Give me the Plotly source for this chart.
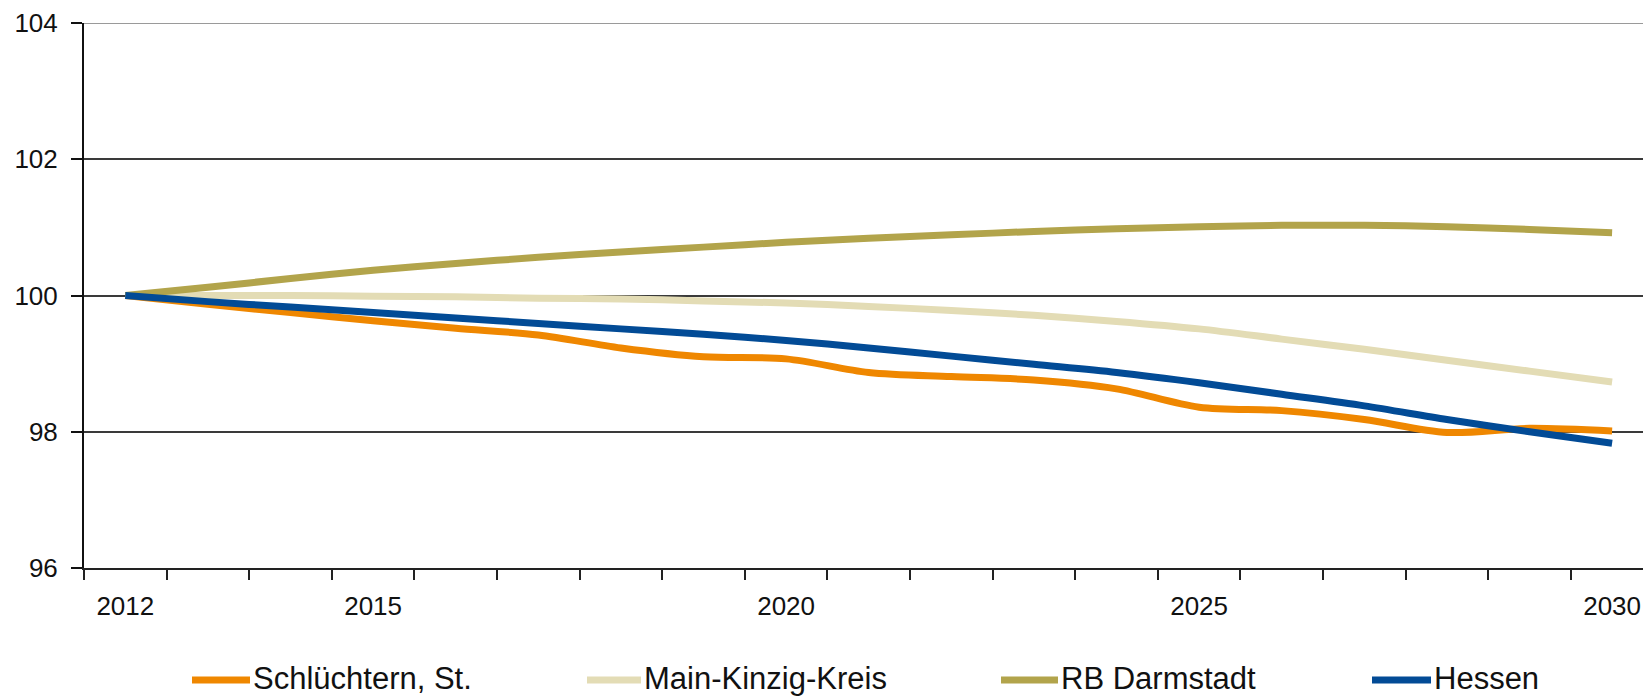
import plotly.graph_objects as go

# Bevölkerungsentwicklung, Index 2012 = 100
years = list(range(2012, 2031))

schluechtern = [100.00, 99.87, 99.75, 99.63, 99.52, 99.42, 99.23, 99.10, 99.07, 98.87,
                98.81, 98.76, 98.63, 98.36, 98.31, 98.18, 97.99, 98.05, 98.01]
main_kinzig = [100.00, 100.00, 100.00, 99.99, 99.98, 99.96, 99.95, 99.92, 99.89, 99.84,
               99.78, 99.71, 99.62, 99.51, 99.36, 99.21, 99.05, 98.89, 98.73]
rb_darmstadt = [100.00, 100.12, 100.25, 100.37, 100.47, 100.56, 100.64, 100.71, 100.78, 100.84,
                100.89, 100.94, 100.98, 101.01, 101.03, 101.03, 101.01, 100.97, 100.92]
hessen = [100.00, 99.91, 99.83, 99.75, 99.67, 99.59, 99.51, 99.43, 99.34, 99.23,
          99.11, 98.99, 98.87, 98.72, 98.55, 98.38, 98.18, 98.00, 97.83]

series_names = ["Schlüchtern, St.", "Main-Kinzig-Kreis", "RB Darmstadt", "Hessen"]
series_values = [schluechtern, main_kinzig, rb_darmstadt, hessen]
series_colors = ["#EF8700", "#E3DCB5", "#B2A44B", "#024B96"]

x_tick_years = [2012, 2015, 2020, 2025, 2030]
y_ticks = [96, 98, 100, 102, 104]

FONT = "Liberation Sans Narrow, Arial Narrow, Liberation Sans, Arial, sans-serif"
W, H = 1643, 699
ML, MR, MT, MB = 84, 0, 23, 131
PW, PH = W - ML - MR, H - MT - MB

fig = go.Figure()
for name, vals, col in zip(series_names, series_values, series_colors):
    fig.add_trace(go.Scatter(
        x=years, y=vals, name=name, mode="lines",
        line=dict(color=col, width=7, shape="spline", smoothing=0.9),
        showlegend=False, hoverinfo="x+y+name",
    ))

# one year per 82.6 px; first category boundary sits on the value axis
year_px = 82.6
x_left = years[0] - 0.5
x_right = x_left + PW / year_px

fig.update_layout(
    width=W, height=H,
    margin=dict(l=ML, r=MR, t=MT, b=MB, pad=0),
    paper_bgcolor="white", plot_bgcolor="white",
    font=dict(family=FONT, color="#111111", size=26),
    xaxis=dict(
        range=[x_left, x_right], tickvals=x_tick_years,
        ticktext=[str(y) for y in x_tick_years],
        ticks="", showgrid=False, zeroline=False,
        showline=True, linecolor="#222222", linewidth=2,
        tickfont=dict(family=FONT, size=26, color="#111111"),
        ticklabelstandoff=14, ticklabeloverflow="allow",
        minor=dict(tick0=x_left, dtick=1, ticks="outside", ticklen=10,
                   tickwidth=2, tickcolor="#222222", showgrid=False),
        automargin=False, fixedrange=True,
    ),
    yaxis=dict(
        range=[96, 104], tickvals=y_ticks, ticktext=[str(v) for v in y_ticks],
        ticks="outside", ticklen=11, tickwidth=2, tickcolor="#111111",
        showgrid=True, gridcolor="#3a3a3a", gridwidth=1.5, zeroline=False,
        showline=True, linecolor="#111111", linewidth=2,
        tickfont=dict(family=FONT, size=26, color="#111111"),
        ticklabelstandoff=8, ticklabeloverflow="allow",
        automargin=False, fixedrange=True,
    ),
    showlegend=False,
)

# top frame line at 104
fig.add_shape(type="line", xref="paper", yref="y", x0=0, x1=1, y0=104, y1=104,
              line=dict(color="#9a9a9a", width=2), layer="above")

# legend row below the axis
def px_x(px):
    return (px - ML) / PW

def px_y(py):
    return (H - MB - py) / PH

legend_sym = [(192, 250), (587, 641), (1001, 1058), (1372, 1431)]
legend_y = 680
for (x0, x1), name, col in zip(legend_sym, series_names, series_colors):
    fig.add_shape(type="line", xref="paper", yref="paper",
                  x0=px_x(x0), x1=px_x(x1), y0=px_y(legend_y), y1=px_y(legend_y),
                  line=dict(color=col, width=7))
    fig.add_annotation(xref="paper", yref="paper", x=px_x(x1 + 1), y=px_y(legend_y - 2),
                       text=name, showarrow=False, xanchor="left", yanchor="middle",
                       font=dict(family=FONT, size=31, color="#111111"))

fig.write_html("out.html")
